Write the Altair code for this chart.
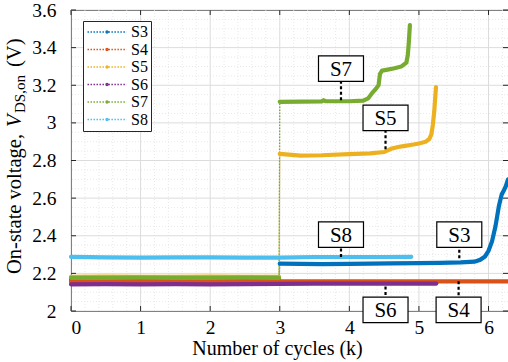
import altair as alt
import pandas as pd
import numpy as np

# ---------------- data ----------------
series = ["S3", "S4", "S5", "S6", "S7", "S8"]
colors = ["#0072BD", "#D95319", "#EDB120", "#7E2F8E", "#77AC30", "#4DBEEE"]

# S3
s3_xa = [0, 0.5, 1, 1.5, 2, 2.5, 2.99]
s3_ya = [2.166, 2.165, 2.166, 2.166, 2.165, 2.166, 2.166]
s3_xb = [3.0, 3.3, 3.6, 4.0, 4.3, 4.6, 5.0, 5.3, 5.6, 5.8, 5.88, 5.95, 6.0, 6.05, 6.1, 6.15, 6.19, 6.22, 6.25, 6.28]
s3_yb = [2.252, 2.250, 2.249, 2.251, 2.252, 2.253, 2.255, 2.256, 2.258, 2.262, 2.272, 2.29, 2.32, 2.37, 2.45, 2.56, 2.62, 2.64, 2.665, 2.70]
# S4
s4_x = [0, 0.5, 1, 1.5, 2, 2.5, 3, 3.5, 4, 4.5, 5, 5.5, 6, 6.28]
s4_y = [2.155, 2.156, 2.155, 2.156, 2.155, 2.156, 2.157, 2.157, 2.157, 2.158, 2.157, 2.158, 2.158, 2.158]
# S5
s5_xa = [0, 0.5, 1, 1.5, 2, 2.5, 2.99]
s5_ya = [2.182, 2.183, 2.182, 2.182, 2.183, 2.182, 2.182]
s5_xb = [3.0, 3.3, 3.6, 4.0, 4.3, 4.5, 4.6, 4.7, 4.8, 4.9, 5.0, 5.1, 5.15, 5.18, 5.2, 5.22, 5.235, 5.245]
s5_yb = [2.835, 2.826, 2.828, 2.834, 2.838, 2.845, 2.862, 2.872, 2.878, 2.884, 2.89, 2.90, 2.915, 2.94, 2.99, 3.06, 3.14, 3.19]
# S6
s6_x = [0, 0.5, 1, 1.5, 2, 2.5, 3, 3.5, 4, 4.5, 5, 5.25]
s6_y = [2.142, 2.143, 2.142, 2.143, 2.142, 2.143, 2.144, 2.145, 2.145, 2.146, 2.146, 2.146]
# S7
s7_xa = [0, 0.5, 1, 1.5, 2, 2.5, 2.99]
s7_ya = [2.176, 2.176, 2.177, 2.176, 2.176, 2.177, 2.176]
s7_xb = [3.0, 3.3, 3.6, 3.63, 3.66, 4.0, 4.2, 4.27, 4.33, 4.38, 4.42, 4.44, 4.47, 4.55, 4.65, 4.75, 4.82, 4.84, 4.855, 4.87]
s7_yb = [3.112, 3.113, 3.114, 3.12, 3.115, 3.115, 3.118, 3.13, 3.16, 3.18, 3.20, 3.26, 3.278, 3.283, 3.29, 3.30, 3.32, 3.36, 3.43, 3.52]
# S8
s8_x = [0, 0.5, 1, 1.5, 2, 2.5, 3, 3.5, 4, 4.5, 4.89]
s8_y = [2.288, 2.285, 2.284, 2.285, 2.285, 2.284, 2.284, 2.287, 2.287, 2.287, 2.288]

segments = [
    ("S3", 0, s3_xa, s3_ya), ("S3", 1, s3_xb, s3_yb),
    ("S4", 0, s4_x, s4_y),
    ("S5", 0, s5_xa, s5_ya), ("S5", 1, s5_xb, s5_yb),
    ("S6", 0, s6_x, s6_y),
    ("S7", 0, s7_xa, s7_ya), ("S7", 1, s7_xb, s7_yb),
    ("S8", 0, s8_x, s8_y),
]

# annotation boxes
ann_labels = ["S7", "S5", "S8", "S3", "S6", "S4"]
ann_x = [3.88, 4.52, 3.88, 5.58, 4.52, 5.57]
ann_tip = [3.12, 2.86, 2.287, 2.28, 2.13, 2.158]
ann_box = [3.288, 3.027, 2.406, 2.406, 2.006, 2.006]

# axis ticks
x_major = [0, 1, 2, 3, 4, 5, 6]
y_major = [2, 2.2, 2.4, 2.6, 2.8, 3, 3.2, 3.4, 3.6]
x_minor = [round(v, 2) for v in np.arange(0, 6.28, 0.2) if abs(v - round(v)) > 1e-6]
y_minor = [round(v, 3) for v in np.arange(2, 3.6, 0.05) if abs(v * 5 - round(v * 5)) > 1e-6]

# ---------------- build tables ----------------
rows = []
k = 0
for s, seg, xs_, ys_ in segments:
    for xv, yv in zip(xs_, ys_):
        rows.append({"series": s, "seg": f"{s}-{seg}", "x": xv, "y": yv, "i": k})
        k += 1
df = pd.DataFrame(rows)

ann = pd.DataFrame({"label": ann_labels, "x": ann_x, "tip": ann_tip, "box": ann_box})

W, H = 437, 301
FONT = "Liberation Serif"
TICK_FS = 19.5

xs = alt.Scale(domain=[0, 6.28], nice=False, zero=False)
ys = alt.Scale(domain=[2, 3.6], nice=False, zero=False)

AX = alt.Axis(values=x_major, format="d", ticks=False, grid=False, domain=False,
              labelFont=FONT, labelFontSize=TICK_FS, labelColor="black",
              labelPadding=7, labelOverlap=False,
              title="Number of cycles (k)", titleFont=FONT, titleFontSize=20, titleFontWeight="normal",
              titleColor="black", titlePadding=2, titleX=206)
AY = alt.Axis(values=y_major, format="~g", ticks=False, grid=False, domain=False,
              labelFont=FONT, labelFontSize=TICK_FS, labelColor="black",
              labelPadding=15, labelOverlap=False, title=None)


def XE(field):
    return alt.X(field, scale=xs, axis=AX)


def YE(field):
    return alt.Y(field, scale=ys, axis=AY)


# dotted legend symbol: many short sub-paths + a dot in the middle
dash_parts = []
u = -3.0
while u < 3.0 - 1e-9:
    dash_parts.append(f"M{u:.3f},0H{min(u + 0.23, 3.0):.3f}")
    u += 0.46
dot = "M-0.15,0A0.15,0.15,0,1,0,0.15,0A0.15,0.15,0,1,0,-0.15,0Z"
legend_path = "".join(dash_parts) + dot

legend = alt.Legend(
    title=None, orient="none", legendX=12, legendY=11,
    symbolType=legend_path, symbolSize=169, symbolStrokeWidth=1.4,
    symbolOffset=13, labelOffset=16,
    labelFont=FONT, labelFontSize=16, labelColor="black",
    strokeColor="#262626", fillColor="white", padding=3, rowPadding=1.5,
)
color = alt.Color("series:N", scale=alt.Scale(domain=series, range=colors), legend=legend)

base = alt.Chart(df)

# grid
gx_minor = alt.Chart(pd.DataFrame({"v": x_minor})).mark_rule(color="#e3e3e3", strokeWidth=0.8, strokeDash=[1, 2]).encode(
    x=XE("v:Q"))
gy_minor = alt.Chart(pd.DataFrame({"v": y_minor})).mark_rule(color="#e3e3e3", strokeWidth=0.8, strokeDash=[1, 2]).encode(
    y=YE("v:Q"))
gx_major = alt.Chart(pd.DataFrame({"v": x_major})).mark_rule(color="#dcdcdc", strokeWidth=1).encode(
    x=XE("v:Q"))
gy_major = alt.Chart(pd.DataFrame({"v": y_major})).mark_rule(color="#dcdcdc", strokeWidth=1).encode(
    y=YE("v:Q"))

# inward ticks
tk_bot = alt.Chart(pd.DataFrame({"v": x_major})).mark_rule(color="#262626").encode(
    x=XE("v:Q"), y=alt.value(H - 5), y2=alt.value(H))
tk_top = alt.Chart(pd.DataFrame({"v": x_major})).mark_rule(color="#262626").encode(
    x=XE("v:Q"), y=alt.value(0), y2=alt.value(5))
tk_left = alt.Chart(pd.DataFrame({"v": y_major})).mark_rule(color="#262626").encode(
    y=YE("v:Q"), x=alt.value(0), x2=alt.value(5))
tk_right = alt.Chart(pd.DataFrame({"v": y_major})).mark_rule(color="#262626").encode(
    y=YE("v:Q"), x=alt.value(W - 5), x2=alt.value(W))

# series
connect = base.mark_line(strokeWidth=1.3, strokeDash=[1.5, 1.5]).encode(
    x=XE("x:Q"), y=YE("y:Q"), color=color, order="i:Q")
thick = base.mark_line(strokeWidth=4.2, strokeCap="round").encode(
    x=XE("x:Q"), y=YE("y:Q"), color=color, detail="seg:N", order="i:Q")

# annotations
ptr = alt.Chart(ann).mark_rule(color="black", strokeWidth=2.2, strokeDash=[3, 2.5]).encode(
    x=XE("x:Q"), y=YE("tip:Q"), y2="box:Q")
box = alt.Chart(ann).mark_point(shape="M-1,-0.567H1V0.567H-1Z", size=2025, filled=True, fill="white",
                                stroke="black", strokeWidth=1.2, opacity=1).encode(
    x=XE("x:Q"), y=YE("box:Q"))
lab = alt.Chart(ann).mark_text(font=FONT, fontSize=21, color="black", baseline="middle", align="center", dy=1).encode(
    x=XE("x:Q"), y=YE("box:Q"), text="label:N")


# y title composed of pieces (normal, italic V, subscript, normal)
def ytext(t, size, xpos, ypos, style="normal"):
    return alt.Chart(pd.DataFrame({"t": [t]})).mark_text(
        font=FONT, fontSize=size, fontStyle=style, angle=270, align="left", baseline="middle",
        color="black").encode(text="t:N", x=alt.value(xpos), y=alt.value(ypos))


yt1 = ytext("On-state voltage, ", 20.5, -56, 264)
yt2 = ytext("V", 20.5, -56, 117, "italic")
yt3 = ytext("DS,on", 15, -51, 103)
yt4 = ytext("(V)", 20.5, -56, 57)

chart = alt.layer(
    gx_minor, gy_minor, gx_major, gy_major,
    connect, thick,
    tk_bot, tk_top, tk_left, tk_right,
    ptr, box, lab,
    yt1, yt2, yt3, yt4,
).properties(
    width=W, height=H,
    padding={"left": 71, "top": 10, "right": 0, "bottom": 51},
    autosize=alt.AutoSizeParams(type="none"),
).configure_view(
    stroke="#262626", strokeWidth=1
).configure_axis(
    labelFont=FONT, labelFontSize=TICK_FS, labelColor="black",
    titleFont=FONT, titleFontSize=20, titleFontWeight="normal", titleColor="black",
).configure_legend(
    labelFont=FONT, labelFontSize=16, labelColor="black",
)

chart.save("out.html", embed_options={"renderer": "svg", "actions": False})
